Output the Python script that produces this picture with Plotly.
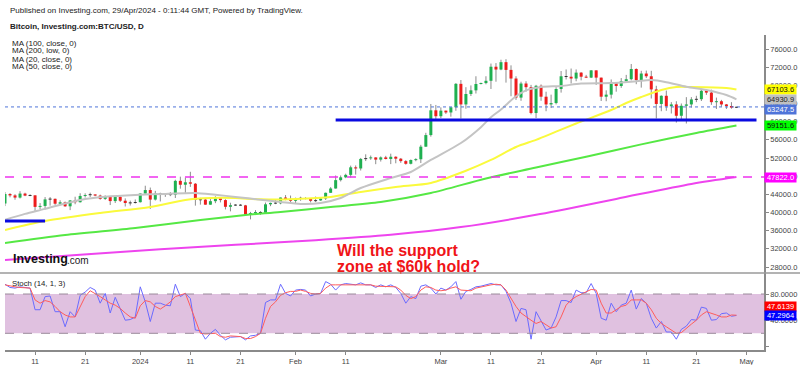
import plotly.graph_objects as go
import pandas as pd

# ---------------- data ----------------
dates = pd.date_range("2023-12-05", "2024-04-29", freq="D")

opens = [
    41990, 44080, 43770, 43290, 44170, 43720, 43790, 41240, 41450, 42890, 43020, 41940, 42260, 41370,
    42660, 42270, 43650, 43860, 43990, 43730, 43010, 43600, 42520, 43440, 42600, 42100, 42150,
    42280, 44180, 44950, 42850, 44180, 44160, 43970, 43930, 46970, 46120, 46660, 46340, 42780, 42850,
    41730, 42500, 43150, 42740, 41260, 41620, 41660, 41580, 39560, 39880, 40080, 39950, 41810, 42120,
    42030, 43300, 42940,
    42580, 43080, 43180, 43000, 42580, 42660, 43090, 44340, 45290, 47130, 47750, 48290, 49950, 49700,
    51800, 51940, 52130, 51650, 52140, 51780, 52280, 51850, 51320, 50730, 51570, 51730, 54500, 57050,
    62500,
    61200, 62430, 62030, 63170, 68330, 63800, 66100, 66900, 68300, 68500, 69000, 72100, 71480, 73100,
    71400, 69500, 65300, 68400, 67600, 61900, 67900, 65500, 63800, 64100, 67200, 70000, 69900, 69500,
    70800, 69900, 69700,
    71300, 69700, 65500, 65950, 68500, 67850, 68900, 69350, 71600, 69150, 70600, 70000, 67100, 63900,
    65700, 63400, 63800, 61300, 63500, 63800, 64900, 64950, 66800, 66400, 64300, 64500, 63800, 63450,
    63100,
]
highs = [
    44490, 44270, 44040, 44700, 44360, 44030, 43790, 42080, 43400, 43410, 43080, 42700, 42420, 42750,
    43480, 44250, 44230, 44380, 44000, 43940, 43780, 43600, 43680, 43800, 43120, 42620, 42880,
    44200, 45900, 45500, 44770, 44360, 44200, 44480, 47220, 47900, 47700, 48970, 46500, 43240, 43080,
    43370, 43580, 43190, 42930, 42160, 41840, 41870, 41680, 40140, 40530, 40290, 42200, 42180, 42800,
    43310, 43850, 43740,
    43280, 43480, 43380, 43110, 43520, 43370, 44400, 45590, 48150, 48160, 48550, 50330, 50370, 52020,
    52820, 52550, 52170, 52350, 52480, 52960, 52380, 52010, 51540, 51680, 51950, 54900, 57550, 63900,
    63680,
    63150, 62430, 63200, 68500, 69170, 67600, 67980, 70000, 68600, 70000, 72800, 72900, 73640, 73750,
    72400, 70000, 68800, 68900, 68100, 68100, 68200, 66600, 65950, 67600, 71150, 71500, 71700, 71500,
    70900, 70300, 71350,
    71300, 69700, 66900, 69300, 68700, 69600, 70300, 72700, 71750, 71200, 71250, 71200, 67900, 65800,
    66850, 64300, 64500, 64000, 65400, 65400, 65700, 67200, 67200, 67050, 65300, 64800, 63900, 64300,
    63300,
]
lows = [
    41420, 43350, 42820, 43090, 43600, 43600, 40300, 40720, 40660, 41520, 41690, 41740, 41250, 40530,
    41830, 42200, 43300, 43410, 43590, 42820, 42770, 41650, 42100, 42320, 41330, 41540, 41980,
    42190, 44180, 40800, 42640, 42440, 43450, 43610, 43200, 45250, 44330, 45640, 41520, 41740, 41720,
    41700, 42060, 42230, 40680, 40260, 41450, 41480, 39460, 38500, 39500, 39500, 39820, 41400, 41850,
    41820, 42700, 42300,
    41880, 42590, 42890, 42230, 42300, 42570, 42770, 44340, 45250, 46840, 47570, 47700, 48350, 49250,
    51330, 51600, 50640, 51220, 51690, 50660, 50840, 50940, 50540, 50600, 51290, 50900, 54450, 56700,
    60400,
    60800, 61700, 61100, 62400, 60700, 62850, 65650, 66200, 68200, 68230, 67200, 68800, 71330, 68600,
    65600, 64800, 64600, 66600, 61600, 60800, 64600, 62300, 63000, 63800, 66400, 69300, 68400, 68900,
    69100, 69600, 69600,
    68100, 64550, 64500, 65100, 66600, 67450, 68800, 69100, 68250, 67500, 69600, 65100, 60700, 62300,
    62400, 61800, 59800, 60200, 59600, 63100, 64300, 64550, 65900, 63700, 62800, 63300, 62800, 62850,
    63000,
]
closes = [
    44080, 43770, 43290, 44170, 43720, 43790, 41240, 41450, 42890, 43020, 41940, 42260, 41370, 42660,
    42270, 43650, 43860, 43990, 43730, 43010, 43600, 42520, 43440, 42600, 42100, 42150, 42280,
    44180, 44950, 42850, 44180, 44160, 43970, 43930, 46970, 46120, 46660, 46340, 42780, 42850, 41730,
    42500, 43150, 42740, 41260, 41620, 41660, 41580, 39560, 39880, 40080, 39950, 41810, 42120, 42030,
    43300, 42940, 42580,
    43080, 43180, 43000, 42580, 42660, 43090, 44340, 45290, 47130, 47750, 48290, 49950, 49700, 51800,
    51940, 52130, 51650, 52140, 51780, 52280, 51850, 51320, 50730, 51570, 51730, 54500, 57050, 62500,
    61200,
    62430, 62030, 63170, 68330, 63800, 66100, 66900, 68300, 68500, 69000, 72100, 71480, 73100, 71400,
    69500, 65300, 68400, 67600, 61900, 67900, 65500, 63800, 64100, 67200, 70000, 69900, 69500, 70800,
    69900, 69700, 71300,
    69700, 65500, 65950, 68500, 67850, 68900, 69350, 71600, 69150, 70600, 70000, 67100, 63900, 65700,
    63400, 63800, 61300, 63500, 63800, 64900, 64950, 66800, 66400, 64300, 64500, 63800, 63450, 63100,
    63247.5,
]

# moving averages, sampled along the drawn curves
ma20_dates = ["2023-12-05", "2023-12-09", "2023-12-13", "2023-12-17", "2023-12-21", "2023-12-25",
              "2023-12-31", "2024-01-06", "2024-01-12", "2024-01-16", "2024-01-20", "2024-01-25",
              "2024-01-29", "2024-02-02", "2024-02-06", "2024-02-10", "2024-02-14", "2024-02-20",
              "2024-02-24", "2024-02-28", "2024-03-05", "2024-03-09", "2024-03-11", "2024-03-13",
              "2024-03-16", "2024-03-18", "2024-03-21", "2024-03-25", "2024-03-29", "2024-04-04",
              "2024-04-09", "2024-04-12", "2024-04-15", "2024-04-19", "2024-04-23", "2024-04-27",
              "2024-04-29"]
ma20_vals = [38400, 39700, 40800, 42000, 43000, 43500, 43880, 44100, 44300, 43900, 43440, 42800,
             42330, 41900, 42100, 43200, 45400, 47600, 48930, 51570, 55300, 58800, 61000, 62700,
             65600, 66900, 67640, 67860, 68400, 68520, 68900, 69150, 68700, 67700, 66980, 65880,
             64930.9]

ma50_dates = ["2023-12-05", "2023-12-13", "2023-12-24", "2024-01-03", "2024-01-10", "2024-01-15",
              "2024-01-20", "2024-01-25", "2024-02-01", "2024-02-08", "2024-02-14", "2024-02-21",
              "2024-02-28", "2024-03-06", "2024-03-11", "2024-03-16", "2024-03-20", "2024-03-24",
              "2024-03-28", "2024-04-04", "2024-04-07", "2024-04-10", "2024-04-14", "2024-04-17",
              "2024-04-20", "2024-04-27", "2024-04-29"]
ma50_vals = [36160, 38140, 39900, 41220, 42770, 43200, 43200, 42900, 43000, 43440, 44540, 45640,
             46520, 49200, 51570, 54430, 56000, 57800, 59600, 62570, 64110, 65430, 66980, 67640,
             67640, 67420, 67103.6]

ma100_dates = ["2023-12-05", "2023-12-17", "2023-12-31", "2024-01-13", "2024-01-22", "2024-01-29",
               "2024-02-08", "2024-02-18", "2024-02-28", "2024-03-10", "2024-03-20", "2024-03-30",
               "2024-04-10", "2024-04-21", "2024-04-29"]
ma100_vals = [33300, 35060, 36600, 38360, 39450, 40120, 41220, 42330, 44300, 47500, 49900, 52300,
              55000, 57510, 59151.6]

ma200_dates = ["2023-12-05", "2023-12-20", "2024-01-05", "2024-01-20", "2024-02-05", "2024-02-20",
               "2024-03-05", "2024-03-20", "2024-04-05", "2024-04-20", "2024-04-29"]
ma200_vals = [29560, 30700, 31900, 32900, 33900, 35100, 36800, 39500, 43000, 46300, 47822.0]

# Stochastic (14, 1, 3): %K (blue) and %D (red), one value per day
stoch_k = [
    95, 90, 89, 91, 90, 89, 56, 56, 76, 77, 53, 53, 30, 53, 45, 78, 83, 90, 86, 66,
    81, 51, 75, 56, 40, 41, 45, 91, 68, 38, 66, 66, 63, 62, 95, 76, 81, 73, 25, 24,
    11, 20, 26, 17, 10, 14, 15, 15, 10, 16, 17, 20, 67, 71, 71, 95, 81, 77, 86, 87,
    86, 77, 80, 81, 99, 95, 86, 94, 96, 95, 94, 97, 94, 94, 90, 94, 91, 94, 90, 81,
    66, 76, 73, 92, 94, 89, 80, 89, 86, 91, 99, 72, 84, 87, 91, 92, 94, 96, 94, 94,
    84, 66, 38, 58, 56, 11, 53, 40, 25, 28, 45, 70, 70, 67, 86, 82, 82, 96, 81, 43,
    40, 66, 53, 63, 66, 86, 57, 73, 66, 43, 28, 38, 22, 22, 11, 26, 31, 41, 40, 60,
    58, 40, 41, 50, 51, 46, 47.2964,
]
stoch_d = [
    94, 92, 91, 90, 90, 89, 71, 66, 70, 68, 61, 53, 48, 45, 45, 61, 76, 85, 81, 76,
    71, 66, 63, 58, 51, 45, 43, 62, 70, 68, 61, 57, 62, 68, 76, 78, 81, 61, 40, 20,
    19, 20, 20, 15, 14, 16, 15, 15, 12, 12, 15, 20, 43, 61, 68, 78, 82, 84, 84, 86,
    84, 81, 80, 81, 89, 94, 94, 94, 95, 95, 95, 95, 94, 94, 92, 92, 92, 92, 91, 86,
    78, 73, 76, 86, 91, 90, 86, 85, 86, 89, 91, 86, 85, 85, 89, 91, 92, 94, 95, 94,
    86, 73, 61, 51, 45, 40, 35, 38, 33, 28, 30, 45, 63, 71, 76, 80, 84, 87, 86, 66,
    51, 51, 56, 61, 63, 71, 71, 71, 66, 56, 43, 35, 30, 25, 20, 21, 28, 34, 40, 48,
    53, 51, 48, 45, 45, 48, 47.6139,
]

# drawn lines
support_level = 60370
support_span = ["2024-02-09", "2024-05-03"]
old_level = 38150
old_span = ["2023-12-05", "2023-12-13"]

price_ticks = list(range(28000, 76001, 4000))
stoch_ticks = [0, 40, 80]
stoch_tick_text = ["", "40.0000", "80.0000"]
date_ticks = ["2023-12-11", "2023-12-21", "2024-01-01", "2024-01-11", "2024-01-21", "2024-02-01",
              "2024-02-11", "2024-03-01", "2024-03-11", "2024-03-21", "2024-04-01", "2024-04-11",
              "2024-04-21", "2024-05-01"]
date_tick_text = ["11", "21", "2024", "11", "21", "Feb", "11", "Mar", "11", "21", "Apr", "11",
                  "21", "May"]

# ---------------- figure ----------------
FONT = "Liberation Sans, Arial, sans-serif"
GREEN = "#1fb050"
RED = "#ee1c1c"
DOJI = "#333333"
WICK = "#8c8c8c"

L, R, T, B, W, H = 5, 36, 0, 15, 800, 365
PW, PH = W - L - R, H - T - B


def px_x(px):
    return (px - L) / PW


def px_y(py):
    return (PH + T - py) / PH


fig = go.Figure()

# candles: wicks then bodies
wx, wy = [], []
body = {"up": ([], []), "down": ([], []), "flat": ([], [])}
for d, o, h, l, c in zip(dates, opens, highs, lows, closes):
    wx += [d, d, None]
    wy += [l, h, None]
    lo, hi = min(o, c), max(o, c)
    if hi - lo < 220:
        m = (hi + lo) / 2
        lo, hi = m - 110, m + 110
    key = "flat" if abs(c - o) < 150 else ("up" if c > o else "down")
    body[key][0].extend([d, d, None])
    body[key][1].extend([lo, hi, None])

fig.add_trace(go.Scatter(x=wx, y=wy, mode="lines", line=dict(color=WICK, width=1),
                         hoverinfo="skip", xaxis="x", yaxis="y"))
for key, col in (("up", GREEN), ("down", RED), ("flat", DOJI)):
    fig.add_trace(go.Scatter(x=body[key][0], y=body[key][1], mode="lines",
                             line=dict(color=col, width=3), hoverinfo="skip",
                             xaxis="x", yaxis="y"))

# moving averages
for xs, ys, col in ((ma200_dates, ma200_vals, "#ee44ee"),
                    (ma100_dates, ma100_vals, "#55e844"),
                    (ma50_dates, ma50_vals, "#fafa3c"),
                    (ma20_dates, ma20_vals, "#c4c4c4")):
    fig.add_trace(go.Scatter(x=xs, y=ys, mode="lines",
                             line=dict(color=col, width=2, shape="spline", smoothing=0.8),
                             hoverinfo="skip", xaxis="x", yaxis="y"))

# stochastic
fig.add_trace(go.Scatter(x=dates, y=stoch_k, mode="lines", line=dict(color="#6b6bff", width=1),
                         xaxis="x2", yaxis="y2", hoverinfo="skip"))
fig.add_trace(go.Scatter(x=dates, y=stoch_d, mode="lines", line=dict(color="#ff5c5c", width=1),
                         xaxis="x2", yaxis="y2", hoverinfo="skip"))

# axis ranges from the pixel calibration of the reference
xr = ["2023-12-05", "2024-05-04 12:00"]
per_px = 220.14
y_top_px, y_sep_px = 35, 273
main_range = [76000 - (y_sep_px - 49) * per_px, 76000 + (49 - y_top_px) * per_px]
stoch_range = [-5.5, 112.1]
sep = px_y(y_sep_px)

axis_font = dict(family=FONT, size=7.5, color="#444444")

fig.update_layout(
    width=W, height=H,
    margin=dict(l=L, r=R, t=T, b=B),
    paper_bgcolor="white", plot_bgcolor="white",
    showlegend=False,
    xaxis=dict(domain=[0, 1], anchor="y", range=xr, showticklabels=False, showgrid=False,
               zeroline=False, showline=False, matches="x2"),
    xaxis2=dict(domain=[0, 1], anchor="y2", range=xr, tickvals=date_ticks, ticktext=date_tick_text,
                ticks="outside", ticklen=3, tickcolor="#888888", showgrid=False, zeroline=False,
                showline=True, linecolor="#8a8a8a", linewidth=1.5, tickfont=axis_font),
    yaxis=dict(domain=[sep, px_y(y_top_px)], anchor="x", side="right", range=main_range,
               tickvals=price_ticks, ticktext=[f"{v:.1f}" for v in price_ticks],
               ticks="outside", ticklen=3, tickcolor="#888888", showgrid=False, zeroline=False,
               showline=True, linecolor="#8a8a8a", linewidth=1.5, tickfont=axis_font),
    yaxis2=dict(domain=[0, sep], anchor="x2", side="right", range=stoch_range,
                tickvals=stoch_ticks, ticktext=stoch_tick_text,
                ticks="outside", ticklen=3, tickcolor="#888888", showgrid=False, zeroline=False,
                showline=True, linecolor="#8a8a8a", linewidth=1.5, tickfont=axis_font),
)

shapes = [
    # stochastic band and levels
    dict(type="rect", xref="paper", yref="y2", x0=0, x1=1, y0=20, y1=80,
         fillcolor="rgba(153,51,153,0.3)", line=dict(width=0), layer="below"),
    dict(type="line", xref="paper", yref="y2", x0=0, x1=1, y0=80, y1=80,
         line=dict(color="#9a8a9a", width=1, dash="dash")),
    dict(type="line", xref="paper", yref="y2", x0=0, x1=1, y0=20, y1=20,
         line=dict(color="#9a8a9a", width=1, dash="dash")),
    # pane separator
    dict(type="line", xref="paper", yref="paper", x0=-0.01, x1=1.05, y0=sep, y1=sep,
         line=dict(color="#9a9a9a", width=1.5)),
    # last price line and MA(200) price line
    dict(type="line", xref="paper", yref="y", x0=0, x1=1, y0=closes[-1], y1=closes[-1],
         line=dict(color="#4f74d9", width=1, dash="dot")),
    dict(type="line", xref="paper", yref="y", x0=0, x1=1, y0=ma200_vals[-1], y1=ma200_vals[-1],
         line=dict(color="#ee33ee", width=1.5, dash="dash")),
    # drawn support lines
    dict(type="line", xref="x", yref="y", x0=support_span[0], x1=support_span[1],
         y0=support_level, y1=support_level, line=dict(color="#0a0ae0", width=3)),
    dict(type="line", xref="x", yref="y", x0=old_span[0], x1=old_span[1],
         y0=old_level, y1=old_level, line=dict(color="#0a0ae0", width=3)),
]
fig.update_layout(shapes=shapes)

ann = []


def txt(px, py, text, size=7.5, color="#222222", bold=False):
    ann.append(dict(xref="paper", yref="paper", x=px_x(px), y=px_y(py), xanchor="left",
                    yanchor="middle", showarrow=False,
                    text=f"<b>{text}</b>" if bold else text,
                    font=dict(family=FONT, size=size, color=color)))


txt(8, 10, "Published on Investing.com, 29/Apr/2024 - 0:11:44 GMT, Powered by TradingView.", size=8)
txt(8, 26, "Bitcoin, Investing.com:BTC/USD, D", size=8, bold=True)
for i, t in enumerate(["MA (100, close, 0)", "MA (200, low, 0)", "MA (20, close, 0)",
                       "MA (50, close, 0)"]):
    txt(10, 43 + 8 * i, t, size=8)
txt(10, 283, "Stoch (14, 1, 3)", size=7.8)
txt(11, 259, "Investing", size=12.5, color="#111111", bold=True)
txt(65, 260, ".com", size=10, color="#222222")
txt(335, 250, "Will the support", size=16, color="#f01418", bold=True)
txt(335, 266, "zone at $60k hold?", size=16, color="#f01418", bold=True)


def price_label(value, bg, fg, yref="y", shift=0, fmt="{:.1f}"):
    ann.append(dict(xref="paper", yref=yref, x=px_x(764), y=value, xanchor="left",
                    yanchor="middle", showarrow=False, text=fmt.format(value),
                    font=dict(family=FONT, size=7.5, color=fg), bgcolor=bg,
                    width=31, height=9, borderpad=0, yshift=shift))


price_label(ma50_vals[-1], "#ffff00", "#111111")
price_label(ma20_vals[-1], "#c0c0c0", "#222222")
price_label(closes[-1], "#4f74d9", "#ffffff", shift=-2.7)
price_label(ma100_vals[-1], "#00ff00", "#111111")
price_label(ma200_vals[-1], "#ff00ff", "#ffffff")
price_label(stoch_d[-1], "#ff0000", "#ffffff", yref="y2", shift=9, fmt="{:.4f}")
price_label(stoch_k[-1], "#0000ff", "#ffffff", yref="y2", fmt="{:.4f}")

fig.update_layout(annotations=ann)

fig.write_html("out.html", config={"displayModeBar": False},
               post_script="document.body.style.margin='0';document.body.style.overflow='hidden';")
